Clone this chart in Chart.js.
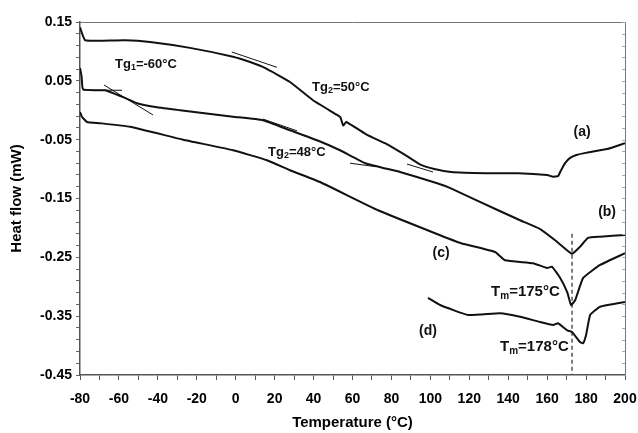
<!DOCTYPE html>
<html>
<head>
<meta charset="utf-8">
<script src="https://cdn.jsdelivr.net/npm/chart.js@4.4.0/dist/chart.umd.min.js"></script>
<style>
body { margin: 0; background: #fff; }
</style>
</head>
<body>
<canvas id="dsc" width="638" height="433"></canvas>
<script>
// curve (a)
const aTemp = [-80, -79, -77.4, -69.7, -56.9, -44, -23.5, -1.4, 7.4, 15, 27.9, 39.7, 52.1, 53.8, 55.2, 56.8, 67.5, 76.7, 88, 95.2, 102, 110.6, 128.1, 145.1, 160, 163, 165.6, 167, 169.2, 171.8, 175, 180.5, 190.8, 200]
const aHeat = [0.141, 0.131, 0.119, 0.118, 0.119, 0.116, 0.106, 0.091, 0.082, 0.072, 0.048, 0.017, -0.008, -0.012, -0.026, -0.020, -0.042, -0.056, -0.078, -0.093, -0.100, -0.105, -0.107, -0.107, -0.110, -0.113, -0.112, -0.103, -0.090, -0.081, -0.076, -0.072, -0.066, -0.056]

// curve (b)
const bTemp = [-80, -79.2, -78.5, -72.3, -67, -63, -56.9, -50.7, -40.4, -28.6, -1.4, 14, 27.9, 41.8, 53.6, 66.5, 84.4, 103.5, 110, 134.8, 146.1, 156.4, 164.1, 170.3, 172.8, 176.9, 181, 187.2, 200]
const bHeat = [0.072, 0.058, 0.036, 0.034, 0.034, 0.029, 0.021, 0.012, 0.005, 0.0, -0.011, -0.017, -0.034, -0.051, -0.068, -0.09, -0.105, -0.124, -0.132, -0.170, -0.187, -0.202, -0.221, -0.238, -0.244, -0.232, -0.217, -0.215, -0.212]

// curve (c)
const cTemp = [-80, -79, -76.4, -69.7, -54.3, -27, -1.4, 16.1, 27.9, 43.3, 73.1, 102.4, 115.8, 133.3, 138.4, 152.8, 160, 162.5, 166.7, 170.3, 172.3, 174.4, 178.5, 187.2, 200]
const cHeat = [-0.003, -0.011, -0.02, -0.022, -0.028, -0.05, -0.068, -0.085, -0.102, -0.122, -0.17, -0.209, -0.226, -0.241, -0.255, -0.26, -0.268, -0.266, -0.285, -0.309, -0.331, -0.323, -0.285, -0.263, -0.243]

// curve (d)
const dTemp = [98.8, 105, 119.4, 135.8, 146.1, 156.4, 163.1, 165.6, 170.3, 172.8, 176.9, 178.5, 180, 182.1, 187.2, 200]
const dHeat = [-0.319, -0.331, -0.348, -0.345, -0.351, -0.36, -0.365, -0.362, -0.374, -0.377, -0.394, -0.396, -0.382, -0.348, -0.334, -0.326]

// tangent lines, [start, end]
const tangentTemps = [[-2, 21.2], [88, 101.4], [-78.5, -58.4], [-67.7, -42.5], [14, 31.5], [58.7, 72.1]]
const tangentHeats = [[0.099, 0.073], [-0.0915, -0.105], [0.034, 0.034], [0.043, -0.008], [-0.015, -0.035], [-0.09, -0.096]]

// melting line
const meltTemp = 172.8
const meltHeat = [-0.21, -0.45]

const xTickLabels = [-80, -60, -40, -20, 0, 20, 40, 60, 80, 100, 120, 140, 160, 180, 200]
const yTickLabels = ['0.15', '0.05', '-0.05', '-0.15', '-0.25', '-0.35', '-0.45']

const FONT = '"Liberation Sans", Arial, sans-serif'

function pts(xs, ys) {
    return xs.map((x, i) => ({x: x, y: ys[i]}))
}

const datasets = [
    {data: pts(aTemp, aHeat), borderWidth: 2},
    {data: pts(bTemp, bHeat), borderWidth: 2},
    {data: pts(cTemp, cHeat), borderWidth: 2},
    {data: pts(dTemp, dHeat), borderWidth: 2}
]
tangentTemps.forEach((t, i) => {
    datasets.push({data: pts(t, tangentHeats[i]), borderWidth: 1, tension: 0})
})
datasets.push({
    data: [{x: meltTemp, y: meltHeat[0]}, {x: meltTemp, y: meltHeat[1]}],
    borderWidth: 1.5, borderDash: [4, 3], borderColor: '#555', tension: 0
})

// annotations: [text, subscript?]
const notes = [
    {parts: [['Tg', 0], ['1', 1], ['=-60°C', 0]], t: -62, v: 0.078, size: 13, align: 'left'},
    {parts: [['Tg', 0], ['2', 1], ['=50°C', 0]], t: 39.2, v: 0.039, size: 13, align: 'left'},
    {parts: [['Tg', 0], ['2', 1], ['=48°C', 0]], t: 16.6, v: -0.071, size: 13, align: 'left'},
    {parts: [['(a)', 0]], t: 178, v: -0.037, size: 14, align: 'center'},
    {parts: [['(b)', 0]], t: 190.8, v: -0.173, size: 14, align: 'center'},
    {parts: [['(c)', 0]], t: 105.5, v: -0.243, size: 14, align: 'center'},
    {parts: [['(d)', 0]], t: 98.8, v: -0.375, size: 14, align: 'center'},
    {parts: [['T', 0], ['m', 1], ['=175°C', 0]], t: 131.2, v: -0.309, size: 15, align: 'left'},
    {parts: [['T', 0], ['m', 1], ['=178°C', 0]], t: 135.8, v: -0.402, size: 15, align: 'left'}
]

const extras = {
    id: 'extras',
    afterDraw(chart) {
        const ctx = chart.ctx
        const xs = chart.scales.x
        const ys = chart.scales.y
        const area = chart.chartArea
        ctx.save()
        // frame top + right
        ctx.strokeStyle = '#777'
        ctx.lineWidth = 1
        ctx.beginPath()
        ctx.moveTo(area.left, area.top + 0.5)
        ctx.lineTo(area.right + 0.5, area.top + 0.5)
        ctx.lineTo(area.right + 0.5, area.bottom)
        ctx.stroke()
        // small inner ticks on the right side
        ctx.strokeStyle = '#aaa'
        ys.ticks.forEach(tk => {
            const py = Math.round(ys.getPixelForValue(tk.value)) + 0.5
            ctx.beginPath()
            ctx.moveTo(area.right, py)
            ctx.lineTo(area.right - 3, py)
            ctx.stroke()
        })
        // annotations
        ctx.fillStyle = '#111'
        ctx.textBaseline = 'middle'
        notes.forEach(n => {
            const big = 'bold ' + n.size + 'px ' + FONT
            const small = 'bold ' + Math.round(n.size * 0.68) + 'px ' + FONT
            let w = 0
            n.parts.forEach(p => {
                ctx.font = p[1] ? small : big
                w += ctx.measureText(p[0]).width
            })
            let px = xs.getPixelForValue(n.t)
            const py = ys.getPixelForValue(n.v)
            if (n.align === 'center') px -= w / 2
            n.parts.forEach(p => {
                ctx.font = p[1] ? small : big
                ctx.textAlign = 'left'
                ctx.fillText(p[0], px, p[1] ? py + n.size * 0.28 : py)
                px += ctx.measureText(p[0]).width
            })
        })
        ctx.restore()
    }
}

const config = {
    type: 'line',
    data: {datasets: datasets},
    options: {
        responsive: false,
        animation: false,
        events: [],
        layout: {padding: {top: 22, right: 13, left: 0, bottom: 0}},
        elements: {
            line: {borderColor: '#111', tension: 0.12, fill: false},
            point: {radius: 0}
        },
        plugins: {legend: {display: false}, tooltip: {enabled: false}},
        scales: {
            x: {
                type: 'linear',
                min: -80,
                max: 200,
                afterBuildTicks(scale) {
                    const t = []
                    for (let v = -80; v <= 200; v += 10) t.push({value: v})
                    scale.ticks = t
                },
                afterFit(scale) {
                    scale.height = 58
                    scale.paddingLeft = 0
                    scale.paddingRight = 0
                },
                grid: {drawOnChartArea: false, tickLength: 5, color: '#555'},
                border: {color: '#555', width: 1.5},
                ticks: {
                    autoSkip: false,
                    maxRotation: 0,
                    padding: 11,
                    color: '#000',
                    font: {family: FONT, size: 14, weight: 'bold'},
                    callback: v => xTickLabels.includes(v) ? String(v) : ''
                },
                title: {
                    display: true,
                    text: 'Temperature (°C)',
                    color: '#000',
                    font: {family: FONT, size: 15, weight: 'bold'},
                    padding: {top: 0, bottom: 1}
                }
            },
            y: {
                type: 'linear',
                min: -0.45,
                max: 0.15,
                afterBuildTicks(scale) {
                    const t = []
                    for (let i = 0; i <= 30; i++) t.push({value: Math.round((-0.45 + i * 0.02) * 100) / 100})
                    scale.ticks = t
                },
                afterFit(scale) {
                    scale.width = 80
                    scale.paddingTop = 0
                    scale.paddingBottom = 0
                },
                grid: {drawOnChartArea: false, tickLength: 4, color: '#666'},
                border: {color: '#555', width: 1.5},
                ticks: {
                    autoSkip: false,
                    padding: 4,
                    color: '#000',
                    font: {family: FONT, size: 14, weight: 'bold'},
                    callback: v => {
                        const s = v.toFixed(2)
                        return yTickLabels.includes(s) ? s : ''
                    }
                },
                title: {
                    display: true,
                    text: 'Heat flow (mW)',
                    color: '#000',
                    font: {family: FONT, size: 15, weight: 'bold'},
                    padding: {top: 8, bottom: 0}
                }
            }
        }
    },
    plugins: [extras]
}

const myChart = new Chart(document.getElementById('dsc').getContext('2d'), config)
</script>
</body>
</html>
